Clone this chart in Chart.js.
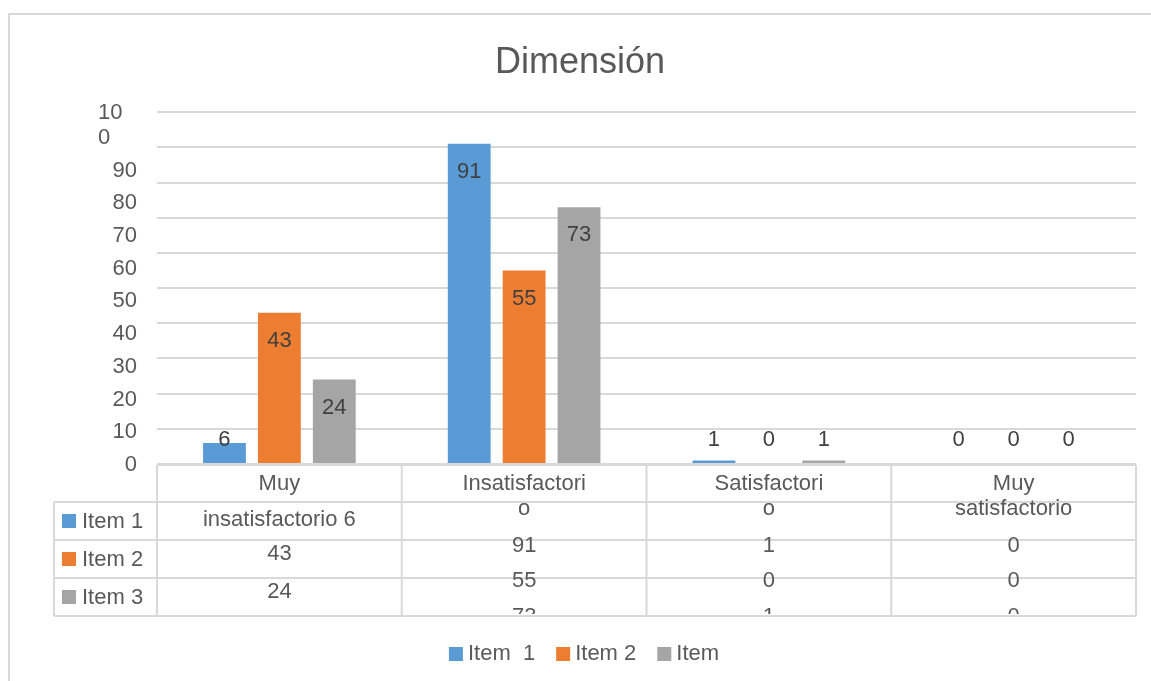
<!DOCTYPE html>
<html>
<head>
<meta charset="utf-8">
<script src="https://cdn.jsdelivr.net/npm/chart.js@4/dist/chart.umd.min.js"></script>
<style>
  html, body { margin: 0; padding: 0; background: #ffffff; overflow: hidden; }
  canvas { display: block; }
</style>
</head>
<body>
<canvas id="chart" width="1151" height="681"></canvas>
<script>
// Categories and their wrapped header lines in the data table
const categories = ['Muy insatisfactorio', 'Insatisfactorio', 'Satisfactorio', 'Muy satisfactorio'];
const headerLines = [['Muy', 'insatisfactorio'], ['Insatisfactori', 'o'], ['Satisfactori', 'o'], ['Muy', 'satisfactorio']];

// Series
const seriesNames = ['Item 1', 'Item 2', 'Item 3'];
const legendNames = ['Item  1', 'Item 2', 'Item'];
const item1 = [6, 91, 1, 0];
const item2 = [43, 55, 0, 0];
const item3 = [24, 73, 1, 0];

// Value axis
const yMin = 0;
const yMax = 100;
const yStep = 10;

const seriesColors = ['#5b9bd5', '#ed7d31', '#a5a5a5'];
const FONT = '"Liberation Sans", Arial, sans-serif';
const TEXT = '#595959';
const LINE = '#d9d9d9';

// Outer frame of the chart object
const framePlugin = {
  id: 'frame',
  beforeDraw(chart) {
    const ctx = chart.ctx;
    ctx.save();
    ctx.strokeStyle = LINE;
    ctx.lineWidth = 2;
    ctx.beginPath();
    ctx.moveTo(9, 681);
    ctx.lineTo(9, 14);
    ctx.lineTo(1151, 14);
    ctx.stroke();
    ctx.restore();
  }
};

// Value-axis labels, set in a narrow text box (wide labels wrap)
const yLabelPlugin = {
  id: 'yLabels',
  afterDraw(chart) {
    const y = chart.scales.y;
    const ctx = chart.ctx;
    const pitch = (y.getPixelForValue(0) - y.getPixelForValue(yStep)) * 0.93;
    const right = 137;
    const boxW = 30;
    ctx.save();
    ctx.font = '22px ' + FONT;
    ctx.fillStyle = TEXT;
    ctx.textBaseline = 'middle';
    y.ticks.forEach((t, i) => {
      const label = String(t.label);
      const ly = y.getPixelForValue(yMin) - i * pitch + 1;
      if (ctx.measureText(label).width > boxW) {
        ctx.textAlign = 'left';
        ctx.fillText(label.slice(0, 2), right - 39, ly - 25);
        ctx.fillText(label.slice(2), right - 39, ly);
      } else {
        ctx.textAlign = 'right';
        ctx.fillText(label, right, ly);
      }
    });
    ctx.restore();
  }
};

// Value labels at the inside end of each bar
const valueLabelPlugin = {
  id: 'valueLabels',
  afterDatasetsDraw(chart) {
    const ctx = chart.ctx;
    const base = chart.scales.y.getPixelForValue(0);
    ctx.save();
    ctx.font = '22px ' + FONT;
    ctx.fillStyle = '#404040';
    ctx.textAlign = 'center';
    ctx.textBaseline = 'middle';
    chart.data.datasets.forEach((ds, di) => {
      chart.getDatasetMeta(di).data.forEach((bar, i) => {
        const ly = Math.min(bar.y + 28, base - 24);
        ctx.fillText(String(ds.data[i]), bar.x, ly);
      });
    });
    ctx.restore();
  }
};

// Data table under the plot
const tablePlugin = {
  id: 'dataTable',
  afterDraw(chart) {
    const ctx = chart.ctx;
    const x = chart.scales.x;
    const area = chart.chartArea;
    const n = categories.length;
    const catW = (area.right - area.left) / n;
    const edges = [];
    for (let i = 0; i <= n; i++) edges.push(x.getPixelForValue(0) - catW / 2 + i * catW);
    const top = area.bottom + 1;
    const rows = [top, top + 37, top + 75, top + 113, top + 151];
    const legendLeft = 54;

    ctx.save();
    ctx.strokeStyle = LINE;
    ctx.lineWidth = 2;
    ctx.beginPath();
    ctx.moveTo(edges[0], rows[0]); ctx.lineTo(edges[n], rows[0]);
    for (let r = 1; r < rows.length; r++) {
      ctx.moveTo(legendLeft, rows[r]); ctx.lineTo(edges[n], rows[r]);
    }
    edges.forEach(ex => { ctx.moveTo(ex, rows[0]); ctx.lineTo(ex, rows[4]); });
    ctx.moveTo(legendLeft, rows[1]); ctx.lineTo(legendLeft, rows[4]);
    ctx.stroke();

    // series keys in the first column
    ctx.font = '22px ' + FONT;
    ctx.textBaseline = 'middle';
    ctx.textAlign = 'left';
    seriesNames.forEach((name, s) => {
      const cy = (rows[s + 1] + rows[s + 2]) / 2;
      ctx.fillStyle = seriesColors[s];
      ctx.fillRect(62, cy - 7, 14, 14);
      ctx.fillStyle = TEXT;
      ctx.fillText(name, 82, cy + 1);
    });

    // cell text, flowing down each column and cut at the table's lower edge
    ctx.beginPath();
    ctx.rect(edges[0], rows[0], edges[n] - edges[0], rows[4] - rows[0] - 2);
    ctx.clip();
    ctx.textAlign = 'center';
    ctx.fillStyle = TEXT;
    const values = [item1, item2, item3];
    for (let c = 0; c < n; c++) {
      const cx = (edges[c] + edges[c + 1]) / 2;
      const hl = headerLines[c];
      let lines, offs;
      if (c === 0) {
        lines = [hl[0], hl[1] + ' ' + values[0][c], String(values[1][c]), String(values[2][c])];
        offs = [0, 36, 70, 108];
      } else {
        lines = [hl[0], hl[1], String(values[0][c]), String(values[1][c]), String(values[2][c])];
        offs = [0, 25, 62, 97, 133];
      }
      lines.forEach((t, k) => ctx.fillText(t, cx, rows[0] + 19 + offs[k]));
    }
    ctx.restore();
  }
};

// Series key row along the bottom edge
const bottomLegendPlugin = {
  id: 'bottomLegend',
  afterDraw(chart) {
    const ctx = chart.ctx;
    const box = 14, textGap = 5, itemGap = 21;
    ctx.save();
    ctx.font = '22px ' + FONT;
    ctx.textBaseline = 'middle';
    ctx.textAlign = 'left';
    const widths = legendNames.map(t => box + textGap + ctx.measureText(t).width);
    const total = widths.reduce((a, b) => a + b, 0) + itemGap * (widths.length - 1);
    const cy = 654;
    let lx = 584 - total / 2;
    legendNames.forEach((t, i) => {
      ctx.fillStyle = seriesColors[i];
      ctx.fillRect(lx, cy - 7, box, box);
      ctx.fillStyle = TEXT;
      ctx.fillText(t, lx + box + textGap, cy);
      lx += widths[i] + itemGap;
    });
    ctx.restore();
  }
};

const datasets = [item1, item2, item3].map((vals, s) => ({
  label: seriesNames[s],
  data: vals,
  backgroundColor: seriesColors[s],
  borderWidth: 0,
  categoryPercentage: 0.673,
  barPercentage: 0.78
}));

new Chart(document.getElementById('chart'), {
  type: 'bar',
  data: { labels: categories, datasets },
  options: {
    responsive: false,
    animation: false,
    devicePixelRatio: 1,
    layout: { padding: { left: 24, right: 15, top: 0, bottom: 61 } },
    plugins: {
      title: {
        display: true,
        text: 'Dimensión',
        color: TEXT,
        font: { family: FONT, size: 36, weight: 'normal' },
        padding: { top: 41, bottom: 28 }
      },
      legend: { display: false },
      tooltip: { enabled: false }
    },
    scales: {
      x: {
        grid: { display: false },
        border: { display: false },
        ticks: { display: false },
        afterFit(scale) { scale.height = 156; }
      },
      y: {
        min: yMin,
        max: yMax,
        ticks: { stepSize: yStep, display: false },
        grid: { color: LINE, lineWidth: 2, drawTicks: false },
        border: { display: false },
        afterFit(scale) { scale.width = 133; }
      }
    }
  },
  plugins: [framePlugin, yLabelPlugin, valueLabelPlugin, tablePlugin, bottomLegendPlugin]
});
</script>
</body>
</html>
